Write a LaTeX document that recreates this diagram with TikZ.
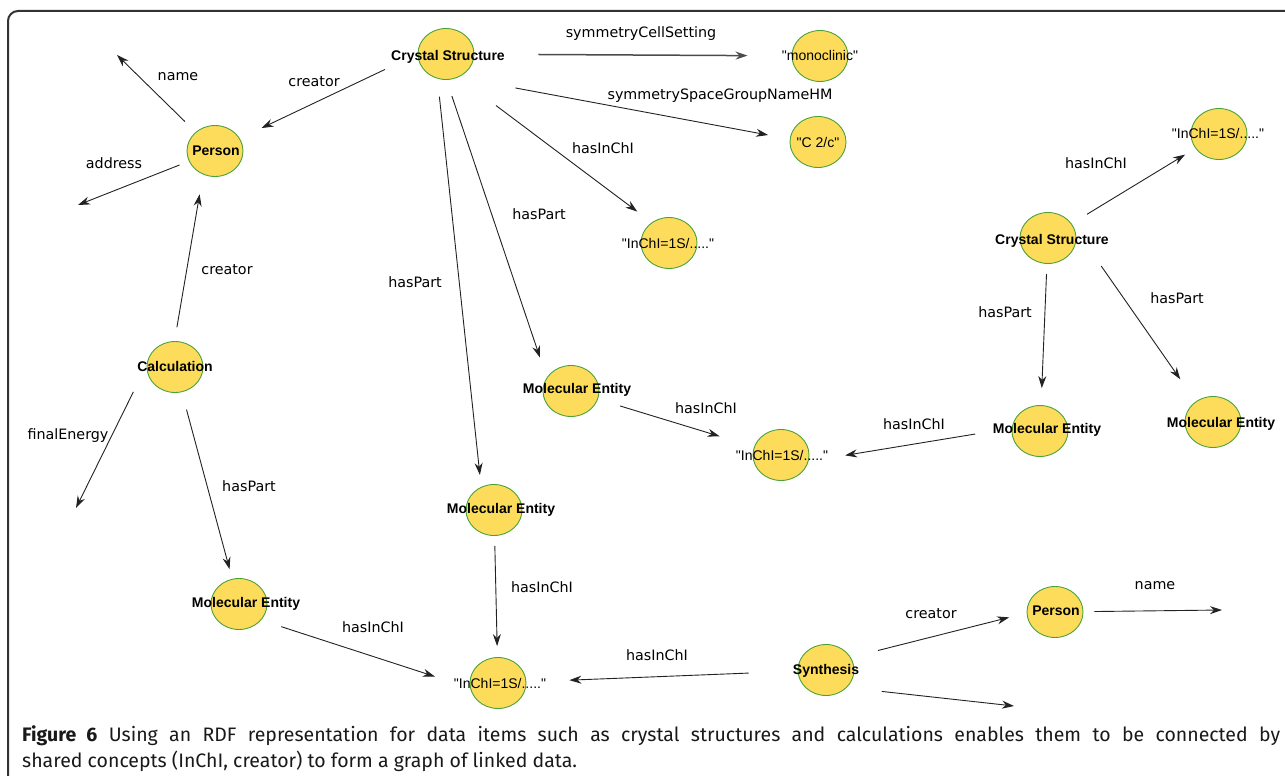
\documentclass[tikz,border=0pt]{standalone}
\usepackage{fontspec}
\usetikzlibrary{arrows.meta,shapes.geometric}
\newfontfamily\clsfont{Liberation Sans}
\newfontfamily\propfont{DejaVu Sans}
\newfontfamily\capfont{Fira Sans}
\definecolor{resyellow}{HTML}{FDDC5C}
\definecolor{resgreen}{HTML}{4CA23A}
\definecolor{edgegray}{HTML}{222222}
\tikzset{
  res/.style={ellipse, draw=resgreen, fill=resyellow, line width=0.9pt,
    minimum width=56pt, minimum height=51pt, inner sep=0pt},
  cls/.style={font=\clsfont\bfseries\fontsize{14}{16}\selectfont,
    inner sep=0pt, text height=10pt, text depth=0pt},
  lit/.style={font=\clsfont\fontsize{14}{16}\selectfont,
    inner sep=0pt, text height=10pt, text depth=0pt},
  prop/.style={font=\propfont\fontsize{14.3}{16}\selectfont,
    inner sep=0pt, text height=10.4pt, text depth=0pt},
  rel/.style={-{Stealth[length=12pt,width=8pt]}, line width=0.9pt, draw=edgegray},
  caption/.style={font=\capfont\fontsize{19.5}{26}\selectfont, text=black!90,
    inner sep=0pt, anchor=base west}
}
\begin{document}
\begin{tikzpicture}[x=1pt,y=-1pt]
  \useasboundingbox (0,0) rectangle (1285,776);
  \clip (0,0) rectangle (1285,776);
  \draw[rounded corners=10pt, line width=2pt, black!80] (8,11) rectangle (1310,810);

  % resources
  \node[res] (cs1) at (446,54) {};
  \node[res] (mono) at (820,56) {};
  \node[res] (c2c) at (818,142) {};
  \node[res] (inchiA) at (669,243) {};
  \node[res] (p1) at (215,151) {};
  \node[res] (calc) at (175,367) {};
  \node[res] (me1) at (571,391) {};
  \node[res] (me2) at (494,510) {};
  \node[res] (me3) at (239,604) {};
  \node[res] (inchiB) at (498,683) {};
  \node[res] (inchiC) at (781,455) {};
  \node[res] (me4) at (1040,431) {};
  \node[res] (cs2) at (1048,238) {};
  \node[res] (inchiD) at (1219,134) {};
  \node[res] (me5) at (1213,422) {};
  \node[res] (synth) at (826,670) {};
  \node[res] (p2) at (1055,612) {};

  \node[cls] (cs1-l) at (448,55) {Crystal Structure};
  \node[lit] (mono-l) at (820,56) {"monoclinic"};
  \node[lit] (c2c-l) at (818,142) {"C 2/c"};
  \node[lit] (inchiA-l) at (668,243) {"InChI=1S/....."};
  \node[cls] (p1-l) at (216,150) {Person};
  \node[cls] (calc-l) at (175,366) {Calculation};
  \node[cls] (me1-l) at (577,388) {Molecular Entity};
  \node[cls] (me2-l) at (501,508) {Molecular Entity};
  \node[cls] (me3-l) at (246,602) {Molecular Entity};
  \node[lit] (inchiB-l) at (500,683) {"InChI=1S/....."};
  \node[lit] (inchiC-l) at (782,455) {"InChI=1S/....."};
  \node[cls] (me4-l) at (1047,428) {Molecular Entity};
  \node[cls] (cs2-l) at (1052,239) {Crystal Structure};
  \node[lit] (inchiD-l) at (1218,133) {"InChI=1S/....."};
  \node[cls] (me5-l) at (1221,422) {Molecular Entity};
  \node[cls] (synth-l) at (826,669) {Synthesis};
  \node[cls] (p2-l) at (1056,610) {Person};

  % free ends
  \coordinate (nameA) at (117,55);
  \coordinate (addrA) at (78,205);
  \coordinate (energyA) at (76,508);
  \coordinate (nameB) at (1222,610);
  \coordinate (outB) at (1014,706);

  % properties
  \draw[rel, line width=1.5pt, draw=black!70, shorten <=64pt, shorten >=44pt] (cs1) -- (mono);
  \draw[rel, shorten <=58pt, shorten >=22pt] (cs1.-62) -- (c2c.174);
  \draw[rel, shorten <=47pt, shorten >=18pt] (cs1.-62) -- (inchiA.130);
  \draw[rel, shorten <=17pt, shorten >=21pt] (cs1.-89) -- (me1.151);
  \draw[rel, shorten <=18pt, shorten >=12pt] (cs1.-109) -- (me2.119);
  \draw[rel, shorten <=36pt, shorten >=24pt] (cs1.180) -- (p1.27);
  \draw[rel, shorten <=15pt] (p1) -- (nameA);
  \draw[rel, shorten <=10pt] (p1) -- (addrA);
  \draw[rel, shorten <=14pt, shorten >=20pt] (calc.91) -- (p1.-117);
  \draw[rel, shorten <=30pt] (calc.176) -- (energyA);
  \draw[rel, shorten <=18pt, shorten >=10pt] (calc) -- (me3);
  \draw[rel, shorten <=21pt, shorten >=37pt] (me3.-36) -- (inchiB.190);
  \draw[rel, shorten <=10pt, shorten >=11pt] (me2) -- (inchiB);
  \draw[rel, shorten <=49pt, shorten >=43pt] (synth) -- (inchiB);
  \draw[rel, shorten <=28pt, shorten >=18pt] (synth.27) -- (p2.182);
  \draw[rel, shorten <=11pt] (p2) -- (nameB);
  \draw[rel, shorten <=35pt] (synth.-40) -- (outB);
  \draw[rel, shorten <=23pt, shorten >=36pt] (me1) -- (inchiC);
  \draw[rel, shorten <=37pt, shorten >=37pt] (me4.174) -- (inchiC.-13);
  \draw[rel, shorten <=18pt, shorten >=12pt] (cs2) -- (inchiD);
  \draw[rel, shorten <=10pt, shorten >=17pt] (cs2) -- (me4);
  \draw[rel, shorten <=53pt, shorten >=27pt] (cs2.34) -- (me5.130);

  \node[prop] (symcell) at (641,32) {symmetryCellSetting};
  \node[prop] (symhm) at (720,94) {symmetrySpaceGroupNameHM};
  \node[prop] (inchi1) at (603,148) {hasInChI};
  \node[prop] (part1) at (539,214) {hasPart};
  \node[prop] (part2) at (415,282) {hasPart};
  \node[prop] (crea1) at (314,81) {creator};
  \node[prop] (name1) at (178,75) {name};
  \node[prop] (addr1) at (114,163) {address};
  \node[prop] (crea2) at (227,269) {creator};
  \node[prop] (energy1) at (68,434) {finalEnergy};
  \node[prop] (part3) at (249,486) {hasPart};
  \node[prop] (inchi2) at (373,627) {hasInChI};
  \node[prop] (inchi3) at (542,587) {hasInChI};
  \node[prop] (inchi4) at (657,655) {hasInChI};
  \node[prop] (crea3) at (931,613) {creator};
  \node[prop] (name2) at (1155,584) {name};
  \node[prop] (inchi5) at (706,408) {hasInChI};
  \node[prop] (inchi6) at (914,424) {hasInChI};
  \node[prop] (inchi7) at (1096,163) {hasInChI};
  \node[prop] (part4) at (1005,312) {hasPart};
  \node[prop] (part5) at (1177,298) {hasPart};

  % caption
  \node[caption] (cap1) at (22,741) {\makebox[1258pt][s]{\textbf{Figure 6} Using an RDF representation for data items such as crystal structures and calculations enables them to be connected by}};
  \node[caption] (cap2) at (22,767) {shared concepts (InChI, creator) to form a graph of linked data.};
\end{tikzpicture}
\end{document}
